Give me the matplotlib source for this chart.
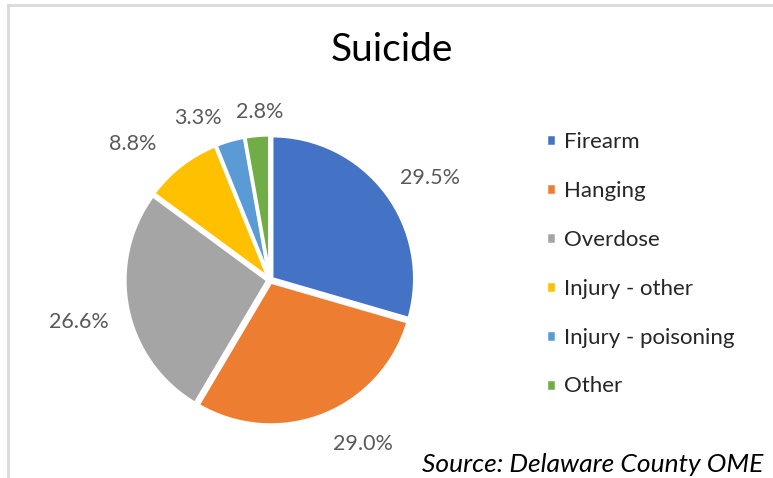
import matplotlib
matplotlib.use("Agg")
import matplotlib.pyplot as plt
from matplotlib.lines import Line2D
import numpy as np

categories = ["Firearm", "Hanging", "Overdose", "Injury - other", "Injury - poisoning", "Other"]
values = [29.5, 29.0, 26.6, 8.8, 3.3, 2.8]
colors = ["#4472C4", "#ED7D31", "#A5A5A5", "#FFC000", "#5B9BD5", "#70AD47"]

# label placement tweaks (Excel "best fit" style): radial distance and angular nudge (deg)
label_dist = [1.33, 1.32, 1.37, 1.35, 1.24, 1.18]
label_nudge = [-4.4, 7.8, 0.8, 7.4, 8.0, -1.6]

plt.rcParams['font.family'] = ['Lato', 'DejaVu Sans']

W, H = 773, 478
fig = plt.figure(figsize=(W / 100, H / 100), dpi=100)
fig.patch.set_facecolor("white")

# light chart border
fig.add_artist(Line2D([8 / W, 8 / W], [0, 1 - 5 / H], transform=fig.transFigure, color="#d9d9d9", lw=2))
fig.add_artist(Line2D([8 / W, 1], [1 - 5 / H, 1 - 5 / H], transform=fig.transFigure, color="#d9d9d9", lw=2))

cx, cy, r = 270, 280, 143
ax = fig.add_axes([(cx - r) / W, 1 - (cy + r) / H, 2 * r / W, 2 * r / H])
labels = [f"{v:.1f}%" for v in values]
wedges, texts = ax.pie(values, colors=colors, startangle=90, counterclock=False,
                       labels=labels, labeldistance=1.3, explode=[0.015] * len(values),
                       wedgeprops=dict(edgecolor="white", linewidth=2.5),
                       textprops=dict(color="#595959", fontsize=15.5))
for w, t, d, n in zip(wedges, texts, label_dist, label_nudge):
    ang = np.deg2rad((w.theta1 + w.theta2) / 2 + n)
    t.set_position((d * np.cos(ang), d * np.sin(ang)))
    t.set_ha("center")
    t.set_va("center")
ax.set_xlim(-1, 1)
ax.set_ylim(-1, 1)
ax.set_aspect("equal")
ax.axis("off")

fig.text(392 / W, 1 - 50 / H, "Suicide", ha="center", va="center", fontsize=28, color="black")

leg = fig.legend(wedges, categories, loc="upper left", bbox_to_anchor=(526 / W, 1 - 112 / H),
                 frameon=False, fontsize=16, handlelength=0.45, handleheight=0.45,
                 labelspacing=1.3, handletextpad=0.35, labelcolor="#262626")

fig.text(763 / W, 1 - 465 / H, "Source: Delaware County OME", ha="right", va="center",
         fontsize=19, style="italic", color="black")

fig.savefig("out.png", dpi=100, facecolor="white")
